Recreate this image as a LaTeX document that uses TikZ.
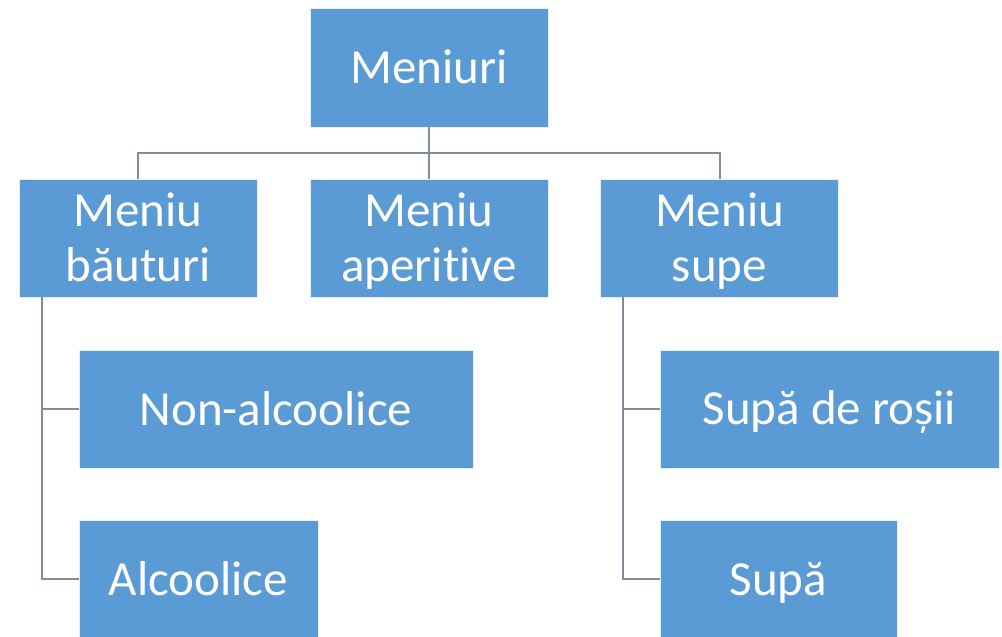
\documentclass[tikz,border=0pt]{standalone}
\usepackage{fontspec}
\setmainfont[Ligatures=NoCommon]{Carlito}
\definecolor{boxblue}{RGB}{91,155,213}
\definecolor{linkgray}{RGB}{130,140,156}
% strut that puts the baseline slightly below the box centre
\newcommand\lstrut{\vrule width0pt height40pt depth8pt}
\begin{document}
\begin{tikzpicture}[x=1pt,y=-1pt,
  menubox/.style={rectangle, fill=boxblue, draw=white!85!boxblue, line width=0.8pt,
    minimum height=118pt, inner sep=0pt, text=white, align=center,
    font=\fontsize{49}{55}\selectfont},
  link/.style={draw=linkgray, line width=2pt}]
  \useasboundingbox (0,0) rectangle (1002,637);

  % top level
  \node[menubox, minimum width=238pt, minimum height=119pt] (root) at (429,67.5) {\lstrut Meniuri};

  % second level
  \node[menubox, minimum width=238pt] (bev) at (138,238) {\lstrut Meniu\\\lstrut băuturi};
  \node[menubox, minimum width=238pt] (ape) at (429,238) {\lstrut Meniu\\\lstrut aperitive};
  \node[menubox, minimum width=238pt] (soup) at (719.5,238) {\lstrut Meniu\\\lstrut supe};

  % third level
  \node[menubox, minimum width=394pt] (nonalc) at (276,409) {\lstrut Non-alcoolice};
  \node[menubox, minimum width=239pt] (alc) at (198.5,579) {\lstrut Alcoolice};
  \node[menubox, minimum width=339pt] (tomato) at (829.5,409) {\lstrut Supă de roșii};
  \node[menubox, minimum width=237pt] (plain) at (778.5,579) {\lstrut Supă};

  % bus below the root
  \coordinate (bus) at (429,153);
  \coordinate (bevstem) at (42,297);
  \coordinate (soupstem) at (623,297);

  \draw[link] (root.south) -- (ape.north);
  \draw[link] (bev.north) |- (bus) -| (soup.north);

  % branches of the drinks menu
  \draw[link] (bevstem) |- (alc.west);
  \draw[link] (bevstem |- nonalc.west) -- (nonalc.west);

  % branches of the soup menu
  \draw[link] (soupstem) |- (plain.west);
  \draw[link] (soupstem |- tomato.west) -- (tomato.west);
\end{tikzpicture}
\end{document}
